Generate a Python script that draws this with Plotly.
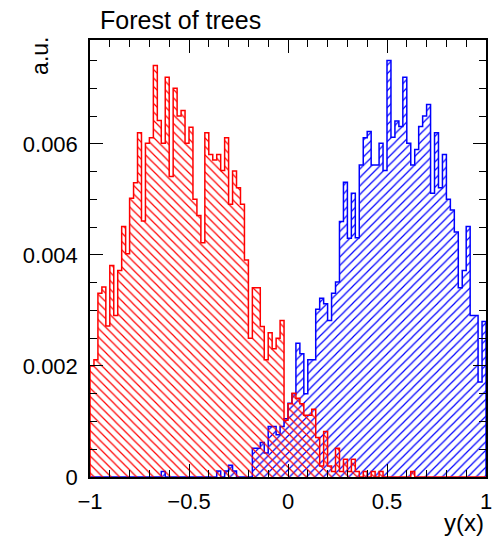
import numpy as np
import plotly.graph_objects as go

# Classifier output y(x): 100 equal bins over [-1, 1]
x_lo, x_hi, n_bins = -1.0, 1.0, 100

# Background (red) bin contents, in units of 1e-3 a.u.
background = [
    2.00, 2.11, 3.31, 3.42, 2.72, 3.81, 2.91, 3.72, 4.51, 4.02,
    5.02, 5.30, 6.20, 4.61, 6.01, 6.11, 7.41, 6.42, 6.01, 7.20,
    5.41, 7.00, 6.50, 6.60, 6.01, 6.30, 5.00, 4.71, 4.22, 6.20,
    5.81, 5.71, 5.81, 5.52, 6.11, 4.91, 5.51, 5.21, 4.91, 3.91,
    2.50, 3.41, 3.41, 2.71, 2.11, 2.60, 2.31, 2.50, 2.82, 1.02,
    1.32, 1.51, 1.42, 1.32, 1.11, 1.11, 1.22, 0.71, 0.20, 0.82,
    0.20, 0.10, 0.52, 0.10, 0.32, 0.10, 0.32, 0.10, 0.00, 0.10,
    0.00, 0.10, 0.00, 0.10, 0.00, 0.00, 0.00, 0.00, 0.00, 0.00,
    0.00, 0.10, 0.00, 0.00, 0.00, 0.00, 0.00, 0.00, 0.00, 0.00,
    0.00, 0.00, 0.00, 0.00, 0.00, 0.00, 0.00, 0.00, 0.00, 0.00,
]

# Signal (blue) bin contents, in units of 1e-3 a.u.
signal = [
    0.00, 0.00, 0.00, 0.00, 0.00, 0.00, 0.00, 0.00, 0.00, 0.00,
    0.00, 0.00, 0.00, 0.00, 0.00, 0.00, 0.00, 0.00, 0.10, 0.00,
    0.00, 0.00, 0.00, 0.00, 0.00, 0.00, 0.00, 0.00, 0.00, 0.00,
    0.00, 0.00, 0.11, 0.00, 0.11, 0.21, 0.11, 0.00, 0.00, 0.00,
    0.00, 0.52, 0.52, 0.62, 0.43, 0.91, 0.91, 0.76, 0.91, 1.05,
    1.33, 1.50, 2.41, 2.22, 1.50, 2.11, 2.11, 3.02, 3.22, 3.12,
    2.82, 3.31, 3.51, 4.60, 5.31, 4.30, 5.11, 4.31, 5.62, 6.11,
    6.22, 5.62, 5.62, 6.01, 5.52, 7.50, 6.12, 6.41, 6.31, 7.20,
    6.01, 5.62, 5.90, 6.31, 6.50, 6.71, 5.11, 6.20, 5.21, 5.81,
    5.00, 4.81, 4.41, 3.41, 3.72, 4.51, 2.91, 2.91, 1.71, 2.80,
]

x_tick_vals = [-1, -0.5, 0, 0.5, 1]
x_tick_text = ["\u22121", "\u22120.5", "0", "0.5", "1"]
y_tick_vals = [0, 0.002, 0.004, 0.006]
y_tick_text = ["0", "0.002", "0.004", "0.006"]

edges = np.linspace(x_lo, x_hi, n_bins + 1)


def step_outline(contents):
    """Edges and heights for an 'hv' step path closed down to zero at both ends."""
    h = np.asarray(contents) * 1e-3
    xs = np.concatenate([[edges[0]], edges[:-1], [edges[-1], edges[-1]]])
    ys = np.concatenate([[0.0], h, [h[-1], 0.0]])
    return xs, ys


FONT = "Liberation Sans, Arial, Helvetica, sans-serif"

fig = go.Figure()

for contents, colour, hatch in [(signal, "#0000ff", "/"), (background, "#ff0000", "\\")]:
    xs, ys = step_outline(contents)
    fig.add_trace(go.Scatter(
        x=xs, y=ys, mode="lines", line=dict(color=colour, width=1.5, shape="hv"),
        fill="tozeroy", fillcolor="rgba(0,0,0,0)",
        fillpattern=dict(shape=hatch, fgcolor=colour, bgcolor="rgba(0,0,0,0)",
                         size=6, solidity=0.2, fillmode="replace"),
        hoverinfo="skip", showlegend=False, cliponaxis=True,
    ))

axis_common = dict(
    automargin=False,
    showgrid=False, zeroline=False, showline=True, linecolor="black", linewidth=1.5,
    mirror="ticks", ticks="inside", ticklen=13, tickwidth=1, tickcolor="black",
    tickfont=dict(family=FONT, size=22, color="black"),
)

fig.update_xaxes(
    range=[x_lo, x_hi], tickvals=x_tick_vals, ticktext=x_tick_text,
    ticklabelstandoff=4,
    minor=dict(ticks="inside", dtick=0.1, ticklen=7, tickcolor="black", tickwidth=1),
    **axis_common,
)
fig.update_yaxes(
    range=[0, 0.00787], tickvals=y_tick_vals, ticktext=y_tick_text,
    ticklabelstandoff=6,
    minor=dict(ticks="inside", dtick=0.0005, tick0=0, ticklen=7, tickcolor="black", tickwidth=1),
    **axis_common,
)

fig.update_layout(
    width=498, height=538,
    margin=dict(l=90, r=12, t=40, b=61, autoexpand=False),
    paper_bgcolor="white", plot_bgcolor="white",
    font=dict(family=FONT, color="black"),
    annotations=[
        dict(text="Forest of trees", xref="paper", yref="paper", x=0.02, y=1.046,
             xanchor="left", yanchor="middle", showarrow=False,
             font=dict(family=FONT, size=25, color="black")),
        dict(text="a.u.", xref="paper", yref="paper", x=-0.127, y=0.963,
             xanchor="center", yanchor="middle", textangle=-90, showarrow=False,
             font=dict(family=FONT, size=23, color="black")),
        dict(text="y(x)", xref="paper", yref="paper", x=1.0, y=-0.105,
             xanchor="right", yanchor="middle", showarrow=False,
             font=dict(family=FONT, size=24, color="black")),
    ],
)

fig.write_html("out.html")
